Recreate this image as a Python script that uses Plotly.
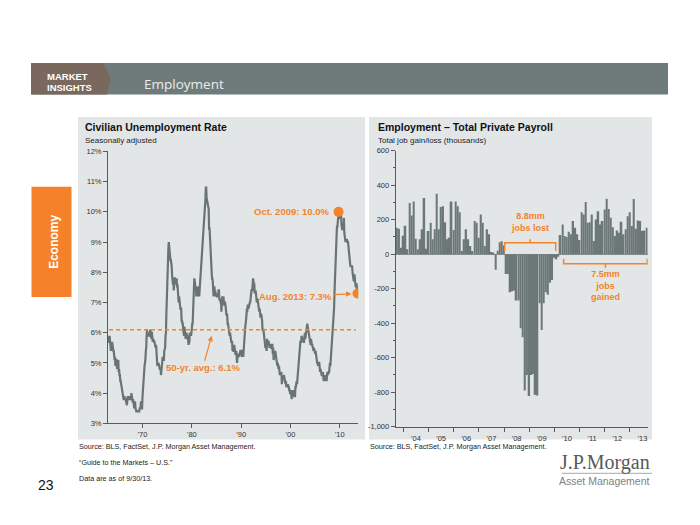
import pandas as pd
import plotly.graph_objects as go

# ------------------------------------------------------------------ data
# Civilian unemployment rate, monthly, seasonally adjusted (%), Jan 1963 - Aug 2013
unemployment_rate = [
    5.7, 5.9, 5.7, 5.7, 5.9, 5.6, 5.6, 5.4, 5.5, 5.5, 5.7, 5.5,   # 1963
    5.6, 5.4, 5.4, 5.3, 5.1, 5.2, 4.9, 5.0, 5.1, 5.1, 4.8, 5.0,   # 1964
    4.9, 5.1, 4.7, 4.8, 4.6, 4.6, 4.4, 4.4, 4.3, 4.2, 4.1, 4.0,   # 1965
    4.0, 3.8, 3.8, 3.8, 3.9, 3.8, 3.8, 3.8, 3.7, 3.7, 3.6, 3.8,   # 1966
    3.9, 3.8, 3.8, 3.8, 3.8, 3.9, 3.8, 3.8, 3.8, 4.0, 3.9, 3.8,   # 1967
    3.7, 3.8, 3.7, 3.5, 3.5, 3.7, 3.7, 3.5, 3.4, 3.4, 3.4, 3.4,   # 1968
    3.4, 3.4, 3.4, 3.4, 3.4, 3.5, 3.5, 3.5, 3.7, 3.7, 3.5, 3.5,   # 1969
    3.9, 4.2, 4.4, 4.6, 4.8, 4.9, 5.0, 5.1, 5.4, 5.5, 5.9, 6.1,   # 1970
    5.9, 5.9, 6.0, 5.9, 5.9, 5.9, 6.0, 6.1, 6.0, 5.8, 6.0, 6.0,   # 1971
    5.8, 5.7, 5.8, 5.7, 5.7, 5.7, 5.6, 5.6, 5.5, 5.6, 5.3, 5.2,   # 1972
    4.9, 5.0, 4.9, 5.0, 4.9, 4.9, 4.8, 4.8, 4.8, 4.6, 4.8, 4.9,   # 1973
    5.1, 5.2, 5.1, 5.1, 5.1, 5.4, 5.5, 5.5, 5.9, 6.0, 6.6, 7.2,   # 1974
    8.1, 8.1, 8.6, 8.8, 9.0, 8.8, 8.6, 8.4, 8.4, 8.4, 8.3, 8.2,   # 1975
    7.9, 7.7, 7.6, 7.7, 7.4, 7.6, 7.8, 7.8, 7.6, 7.7, 7.8, 7.8,   # 1976
    7.5, 7.6, 7.4, 7.2, 7.0, 7.2, 6.9, 7.0, 6.8, 6.8, 6.8, 6.4,   # 1977
    6.4, 6.3, 6.3, 6.1, 6.0, 5.9, 6.2, 5.9, 6.0, 5.8, 5.9, 6.0,   # 1978
    5.9, 5.9, 5.8, 5.8, 5.6, 5.7, 5.7, 6.0, 5.9, 6.0, 5.9, 6.0,   # 1979
    6.3, 6.3, 6.3, 6.9, 7.5, 7.6, 7.8, 7.7, 7.5, 7.5, 7.5, 7.2,   # 1980
    7.5, 7.4, 7.4, 7.2, 7.5, 7.5, 7.2, 7.4, 7.6, 7.9, 8.3, 8.5,   # 1981
    8.6, 8.9, 9.0, 9.3, 9.4, 9.6, 9.8, 9.8, 10.1, 10.4, 10.8, 10.8,  # 1982
    10.4, 10.4, 10.3, 10.2, 10.1, 10.1, 9.4, 9.5, 9.2, 8.8, 8.5, 8.3,  # 1983
    8.0, 7.8, 7.8, 7.7, 7.4, 7.2, 7.5, 7.5, 7.3, 7.4, 7.2, 7.3,   # 1984
    7.3, 7.2, 7.2, 7.3, 7.2, 7.4, 7.4, 7.1, 7.1, 7.1, 7.0, 7.0,   # 1985
    6.7, 7.2, 7.2, 7.1, 7.2, 7.2, 7.0, 6.9, 7.0, 7.0, 6.9, 6.6,   # 1986
    6.6, 6.6, 6.6, 6.3, 6.3, 6.2, 6.1, 6.0, 5.9, 6.0, 5.8, 5.7,   # 1987
    5.7, 5.7, 5.7, 5.4, 5.6, 5.4, 5.4, 5.6, 5.4, 5.4, 5.3, 5.3,   # 1988
    5.4, 5.2, 5.0, 5.2, 5.2, 5.3, 5.2, 5.2, 5.3, 5.3, 5.4, 5.4,   # 1989
    5.4, 5.3, 5.2, 5.4, 5.4, 5.2, 5.5, 5.7, 5.9, 5.9, 6.2, 6.3,   # 1990
    6.4, 6.6, 6.8, 6.7, 6.9, 6.9, 6.8, 6.9, 6.9, 7.0, 7.0, 7.3,   # 1991
    7.3, 7.4, 7.4, 7.4, 7.6, 7.8, 7.7, 7.6, 7.6, 7.3, 7.4, 7.4,   # 1992
    7.3, 7.1, 7.0, 7.1, 7.1, 7.0, 6.9, 6.8, 6.7, 6.8, 6.6, 6.5,   # 1993
    6.6, 6.6, 6.5, 6.4, 6.1, 6.1, 6.1, 6.0, 5.9, 5.8, 5.6, 5.5,   # 1994
    5.6, 5.4, 5.4, 5.8, 5.6, 5.6, 5.7, 5.7, 5.6, 5.5, 5.6, 5.6,   # 1995
    5.6, 5.5, 5.5, 5.6, 5.6, 5.3, 5.5, 5.1, 5.2, 5.2, 5.4, 5.4,   # 1996
    5.3, 5.2, 5.2, 5.1, 4.9, 5.0, 4.9, 4.8, 4.9, 4.7, 4.6, 4.7,   # 1997
    4.6, 4.6, 4.7, 4.3, 4.4, 4.5, 4.5, 4.5, 4.6, 4.5, 4.4, 4.4,   # 1998
    4.3, 4.4, 4.2, 4.3, 4.2, 4.3, 4.3, 4.2, 4.2, 4.1, 4.1, 4.0,   # 1999
    4.0, 4.1, 4.0, 3.8, 4.0, 4.0, 4.0, 4.1, 3.9, 3.9, 3.9, 3.9,   # 2000
    4.2, 4.2, 4.3, 4.4, 4.3, 4.5, 4.6, 4.9, 5.0, 5.3, 5.5, 5.7,   # 2001
    5.7, 5.7, 5.7, 5.9, 5.8, 5.8, 5.8, 5.7, 5.7, 5.7, 5.9, 6.0,   # 2002
    5.8, 5.9, 5.9, 6.0, 6.1, 6.3, 6.2, 6.1, 6.1, 6.0, 5.8, 5.7,   # 2003
    5.7, 5.6, 5.8, 5.6, 5.6, 5.6, 5.5, 5.4, 5.4, 5.5, 5.4, 5.4,   # 2004
    5.3, 5.4, 5.2, 5.2, 5.1, 5.0, 5.0, 4.9, 5.0, 5.0, 5.0, 4.9,   # 2005
    4.7, 4.8, 4.7, 4.7, 4.6, 4.6, 4.7, 4.7, 4.5, 4.4, 4.5, 4.4,   # 2006
    4.6, 4.5, 4.4, 4.5, 4.4, 4.6, 4.7, 4.6, 4.7, 4.7, 4.7, 5.0,   # 2007
    5.0, 4.9, 5.1, 5.0, 5.4, 5.6, 5.8, 6.1, 6.1, 6.5, 6.8, 7.3,   # 2008
    7.8, 8.3, 8.7, 9.0, 9.4, 9.5, 9.5, 9.6, 9.8, 10.0, 9.9, 9.9,  # 2009
    9.8, 9.8, 9.9, 9.9, 9.6, 9.4, 9.4, 9.5, 9.5, 9.4, 9.8, 9.3,   # 2010
    9.1, 9.0, 9.0, 9.1, 9.0, 9.1, 9.0, 9.0, 9.0, 8.8, 8.6, 8.5,   # 2011
    8.3, 8.3, 8.2, 8.2, 8.2, 8.2, 8.2, 8.0, 7.8, 7.8, 7.7, 7.9,   # 2012
    7.9, 7.7, 7.6, 7.5, 7.6, 7.6, 7.4, 7.3,                       # 2013
]
rate_first_month = "1963-01-01"
avg_rate = 6.1
highlight_months = ["2009-10-01", "2013-08-01"]
highlight_labels = ["Oct. 2009: 10.0%", "Aug. 2013: 7.3%"]

rate_ticks = [3, 4, 5, 6, 7, 8, 9, 10, 11, 12]
rate_tick_labels = ["3%", "4%", "5%", "6%", "7%", "8%", "9%", "10%", "11%", "12%"]
decade_ticks = ["1970-01-01", "1980-01-01", "1990-01-01", "2000-01-01", "2010-01-01"]
decade_labels = ["'70", "'80", "'90", "'00", "'10"]

# Total private payroll, monthly change (thousands), Sep 2003 - Aug 2013
payroll_first_month = "2003-09-01"
payroll_change = [
    153, 147, 38, 107, 165, 29, 297, 225, 306, 90, 29, 86,
    144, 326, 32, 134, 182, 86, 144, 350, 144, 274, 278, 186,
    86, 95, 306, 140, 306, 278, 243, 19, 86, 144, 86, 48,
    19, 192, 182, 95, 230, 182, 48, 144, 115, 13, 10,
    -90, 20, 70, 75, 50,
    -115, -115, -220, -215, -210, -268, -268, -430, -482, -790, -700, -823,
    -700, -695, -815, -820, -285, -440, -285, -220, -235, -165, -150, -20,
    -30, -15,
    111, 172, 105, 100, 130, 115, 192, 153, 115, 82, 243, 230,
    303, 182, 186, 230, 77, 201, 249, 172, 192, 259, 322, 262,
    211, 157, 105, 138, 125, 188, 115, 144, 220, 243, 163, 320,
    147, 195, 192, 134, 138, 153,
]
payroll_ticks = [-1000, -800, -600, -400, -200, 0, 200, 400, 600]
payroll_tick_labels = ["-1,000", "-800", "-600", "-400", "-200", "0", "200", "400", "600"]
lost_span = ["2008-01-10", "2010-01-20"]
gained_span = ["2010-05-15", "2013-09-10"]
lost_label = "8.8mm<br>jobs lost"
gained_label = "7.5mm<br>jobs<br>gained"

# ------------------------------------------------------------------ style
W, H = 700, 525
ORANGE = "#f5822a"
LINE_GRAY = "#687574"
BAR_GRAY = "#6b7876"
PANEL = "#e3e6e7"
AXIS = "#5a5a5a"
SANS = "Liberation Sans, Arial, sans-serif"


def px(x):
    return x / W


def py(y):
    return 1 - y / H


rate_dates = pd.date_range(rate_first_month, periods=len(unemployment_rate), freq="MS")
rate = pd.Series(unemployment_rate, index=rate_dates)
payroll_dates = pd.date_range(payroll_first_month, periods=len(payroll_change), freq="MS") + pd.offsets.MonthEnd(0)

hl_dates = pd.to_datetime(highlight_months)
hl_values = [rate[d] for d in hl_dates]

fig = go.Figure()

# unemployment line
fig.add_trace(go.Scatter(x=rate_dates, y=unemployment_rate, mode="lines",
                         line=dict(color=LINE_GRAY, width=2.2),
                         xaxis="x", yaxis="y", hoverinfo="skip"))
fig.add_trace(go.Scatter(x=hl_dates, y=hl_values, mode="markers",
                         marker=dict(color=ORANGE, size=10),
                         xaxis="x", yaxis="y", hoverinfo="skip"))

# payroll bars
fig.add_trace(go.Bar(x=payroll_dates, y=payroll_change, marker=dict(color=BAR_GRAY, line=dict(width=0)),
                     xaxis="x2", yaxis="y2", hoverinfo="skip"))


def bracket(span, y_line, y_end, y_tick):
    a, b = pd.to_datetime(span)
    m = a + (b - a) / 2
    return go.Scatter(x=[a, a, b, b, None, m, m], y=[y_end, y_line, y_line, y_end, None, y_line, y_tick],
                      mode="lines", line=dict(color=ORANGE, width=1.5),
                      xaxis="x2", yaxis="y2", hoverinfo="skip")


fig.add_trace(bracket(lost_span, 66, 19, 87))
fig.add_trace(bracket(gained_span, -55, -27, -78))

ann = []
shapes = []

# ---- header
shapes.append(dict(type="rect", xref="paper", yref="paper", x0=px(31), x1=px(668), y0=py(92), y1=py(60),
                   fillcolor="#6f7b7b", line=dict(width=0), layer="below"))
pts = [(31, 60), (103, 60), (111, 76), (107, 92), (31, 92)]
path = "M " + " L ".join(f"{px(x):.5f},{py(y):.5f}" for x, y in pts) + " Z"
shapes.append(dict(type="path", xref="paper", yref="paper", path=path,
                   fillcolor="#7a685e", line=dict(width=0), layer="below"))
ann.append(dict(text="<b>MARKET</b>", x=px(45), y=py(73.5), xanchor="left", yanchor="middle",
                font=dict(family=SANS, size=9.5, color="white")))
ann.append(dict(text="<b>INSIGHTS</b>", x=px(45), y=py(85), xanchor="left", yanchor="middle",
                font=dict(family=SANS, size=9.5, color="white")))
ann.append(dict(text="Employment", x=px(142), y=py(81), xanchor="left", yanchor="middle",
                font=dict(family="Open Sans, sans-serif", size=13.5, color="#e9eded")))

# ---- side tab
shapes.append(dict(type="rect", xref="paper", yref="paper", x0=px(31.5), x1=px(71.5), y0=py(298), y1=py(186),
                   fillcolor=ORANGE, line=dict(width=0), layer="below"))
ann.append(dict(text="<b>Economy</b>", x=px(54), y=py(242), textangle=-90, xanchor="center", yanchor="middle",
                font=dict(family=SANS, size=12, color="white")))

# ---- panels
shapes.append(dict(type="rect", xref="paper", yref="paper", x0=px(78), x1=px(365), y0=py(443), y1=py(115),
                   fillcolor=PANEL, line=dict(width=0), layer="below"))
shapes.append(dict(type="rect", xref="paper", yref="paper", x0=px(369), x1=px(652), y0=py(443), y1=py(115),
                   fillcolor=PANEL, line=dict(width=0), layer="below"))

# titles
ann.append(dict(text="<b>Civilian Unemployment Rate</b>", x=px(83), y=py(125.5), xanchor="left", yanchor="middle",
                font=dict(family=SANS, size=10.5, color="#111")))
ann.append(dict(text="Seasonally adjusted", x=px(83), y=py(138.5), xanchor="left", yanchor="middle",
                font=dict(family=SANS, size=8, color="#222")))
ann.append(dict(text="<b>Employment – Total Private Payroll</b>", x=px(375.5), y=py(125.5), xanchor="left",
                yanchor="middle", font=dict(family=SANS, size=10.5, color="#111")))
ann.append(dict(text="Total job gain/loss (thousands)", x=px(375.5), y=py(139), xanchor="left", yanchor="middle",
                font=dict(family=SANS, size=8, color="#222")))

# ---- footer
src = "Source: BLS, FactSet, J.P. Morgan Asset Management."
foot_font = dict(family=SANS, size=7.2, color="#222")
ann.append(dict(text=src, x=px(77), y=py(450.5), xanchor="left", yanchor="middle", font=foot_font))
ann.append(dict(text=src, x=px(368), y=py(450.5), xanchor="left", yanchor="middle", font=foot_font))
ann.append(dict(text="“Guide to the Markets – U.S.”", x=px(77), y=py(466.5), xanchor="left", yanchor="middle",
                font=foot_font))
ann.append(dict(text="Data are as of 9/30/13.", x=px(77), y=py(483), xanchor="left", yanchor="middle",
                font=foot_font))
ann.append(dict(text="23", x=px(36), y=py(489), xanchor="left", yanchor="middle",
                font=dict(family=SANS, size=14, color="#111")))
ann.append(dict(text="J.P.Morgan", x=px(652), y=py(467), xanchor="right", yanchor="middle",
                font=dict(family="Liberation Serif, Times New Roman, serif", size=20, color="#58595b")))
shapes.append(dict(type="line", xref="paper", yref="paper", x0=px(562), x1=px(652), y0=py(477.5), y1=py(477.5),
                   line=dict(color="#a7a9ac", width=1)))
ann.append(dict(text="Asset Management", x=px(652), y=py(485.5), xanchor="right", yanchor="middle",
                font=dict(family=SANS, size=10.5, color="#808285")))

# ---- left chart annotations
shapes.append(dict(type="line", xref="x domain", yref="y", x0=0.004, x1=0.99, y0=avg_rate, y1=avg_rate,
                   line=dict(color=ORANGE, width=1.5, dash="4px,3px"), layer="above"))
ann_font = dict(family=SANS, size=9.5, color=ORANGE)
ann.append(dict(text=f"<b>{highlight_labels[0]}</b>", x=hl_dates[0], y=hl_values[0], xref="x", yref="y",
                xanchor="right", yanchor="middle", xshift=-7, showarrow=False, font=ann_font))
ann.append(dict(text=f"<b>{highlight_labels[1]}</b>", x=hl_dates[1], y=hl_values[1], xref="x", yref="y",
                ax=-62, ay=3, showarrow=True, arrowhead=2, arrowsize=0.9, arrowwidth=1.2,
                arrowcolor=ORANGE, standoff=6, font=ann_font))
ann.append(dict(text=f"<b>50-yr. avg.: {avg_rate}%</b>", x="1984-01-10", y=avg_rate - 0.2, xref="x", yref="y",
                ax=-9, ay=32, showarrow=True, arrowhead=2, arrowsize=0.9, arrowwidth=1.2,
                arrowcolor=ORANGE, standoff=0, font=ann_font))

# ---- right chart annotations
lost_mid = pd.to_datetime(lost_span[0]) + (pd.to_datetime(lost_span[1]) - pd.to_datetime(lost_span[0])) / 2
gain_mid = pd.to_datetime(gained_span[0]) + (pd.to_datetime(gained_span[1]) - pd.to_datetime(gained_span[0])) / 2
ann.append(dict(text=f"<b>{lost_label}</b>", x=lost_mid, y=188, xref="x2", yref="y2", showarrow=False,
                xanchor="center", yanchor="middle", font=dict(family=SANS, size=9, color=ORANGE)))
ann.append(dict(text=f"<b>{gained_label}</b>", x=gain_mid, y=-181, xref="x2", yref="y2", showarrow=False,
                xanchor="center", yanchor="middle", font=dict(family=SANS, size=9, color=ORANGE)))

for a in ann:
    a.setdefault("xref", "paper")
    a.setdefault("yref", "paper")
    a.setdefault("showarrow", False)

tick_font = dict(family=SANS, size=7.5, color="#333")
axis_common = dict(showline=True, linecolor=AXIS, linewidth=1, ticks="outside", ticklen=4, tickcolor=AXIS,
                   tickwidth=1, showgrid=False, zeroline=False, tickfont=tick_font, fixedrange=True)

fig.update_layout(
    width=W, height=H, autosize=False,
    margin=dict(l=0, r=0, t=0, b=0),
    paper_bgcolor="white", plot_bgcolor="rgba(0,0,0,0)",
    showlegend=False, bargap=0.12,
    shapes=shapes, annotations=ann,
    xaxis=dict(domain=[px(108), px(358.3)], anchor="y", type="date",
               range=["1963-01-01", "2013-10-01"], tickmode="array",
               tickvals=decade_ticks, ticktext=decade_labels, **axis_common),
    yaxis=dict(domain=[py(426.7), py(150)], anchor="x", range=[3, 12], tickmode="array",
               tickvals=rate_ticks, ticktext=rate_tick_labels, **axis_common),
    xaxis2=dict(domain=[px(395.7), px(647.7)], anchor="y2", type="date",
                range=["2003-09-12", "2013-09-16"], dtick="M12", tick0="2004-01-01",
                tickformat="'%y", ticklabelmode="period", **axis_common),
    yaxis2=dict(domain=[py(430), py(149.3)], anchor="x2", range=[-1000, 600], tickmode="array",
                tickvals=payroll_ticks, ticktext=payroll_tick_labels,
                minor=dict(tickmode="linear", tick0=0, dtick=100, ticks="outside", ticklen=2, tickcolor=AXIS),
                **{k: v for k, v in axis_common.items() if k != "zeroline"},
                zeroline=True, zerolinecolor="#8d9494", zerolinewidth=1),
)

fig.write_html("out.html")
